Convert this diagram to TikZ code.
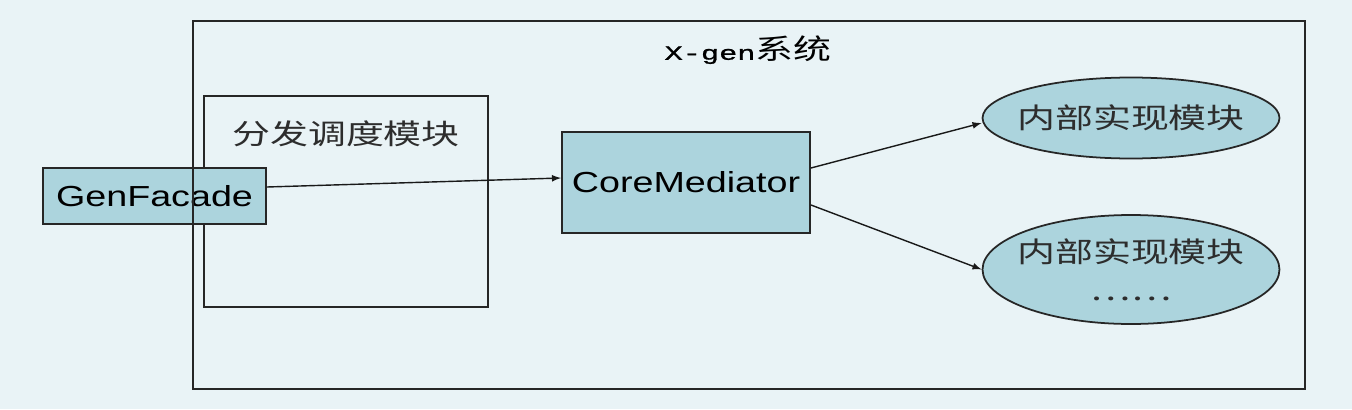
\documentclass[tikz,border=0pt]{standalone}
\usepackage{fontspec}
\usetikzlibrary{shapes.geometric}
\setmainfont[FakeStretch=1.3]{Liberation Sans}
\newfontfamily\cjk[FakeStretch=1.35]{Noto Sans CJK SC}
\newfontfamily\xgenmono[FakeStretch=1.5,FakeBold=1.2]{Liberation Mono}
\definecolor{bgcol}{RGB}{233,243,246}
\definecolor{modfill}{RGB}{172,212,221}
\definecolor{txtgray}{RGB}{45,45,45}
\tikzset{
  frame/.style={draw=black!85, line width=1pt, inner sep=0pt},
  modbox/.style={draw=black!85, line width=1.1pt, fill=modfill, inner sep=0pt,
    font=\fontsize{16.5}{20}\selectfont},
  impl/.style={ellipse, draw=black!85, line width=1pt, fill=modfill, inner xsep=-0.3cm, inner ysep=0pt,
    align=center, text=txtgray, font=\cjk\fontsize{16}{21.5}\selectfont},
  link/.style={-latex, line width=0.8pt, black!90}
}
\begin{document}
\begin{tikzpicture}[x=0.02cm,y=-0.02cm]
    \fill[bgcol] (0,0) rectangle (1352,409);
    \node[frame, line width=1.1pt, minimum width=5.68cm, minimum height=4.22cm] (dispatch) at (346,201.5) {};
    \node[text=txtgray, font=\cjk\fontsize{16}{20}\selectfont] (dispatchtitle) at (346,134) {分发调度模块};
    \node[modbox, minimum width=4.46cm, minimum height=1.12cm] (genfacade) at (154.5,196) {GenFacade};
    % el marco del sistema va encima de GenFacade
    \node[frame, minimum width=22.24cm, minimum height=7.36cm] (xgen) at (749,205) {};
    \node (xgentitle) at (748,50) {{\xgenmono\fontsize{11.5}{14}\selectfont X-gen}{\cjk\fontsize{16}{20}\selectfont 系统}};
    \node[modbox, minimum width=4.96cm, minimum height=2.02cm] (mediator) at (686,182.5) {CoreMediator};
    \node[impl, minimum width=5.94cm, minimum height=1.62cm] (implone) at (1131,118) {内部实现模块};
    \node[impl, minimum width=5.94cm, minimum height=2.18cm] (impltwo) at (1131,269.5) {内部实现模块\\……};
    \draw[link] ([yshift=0.18cm]genfacade.east) -- ([yshift=0.09cm]mediator.west);
    \draw[link] ([yshift=0.29cm]mediator.east) -- ([yshift=-0.1cm]implone.west);
    \draw[link] ([yshift=-0.45cm]mediator.east) -- (impltwo.west);
\end{tikzpicture}
\end{document}
